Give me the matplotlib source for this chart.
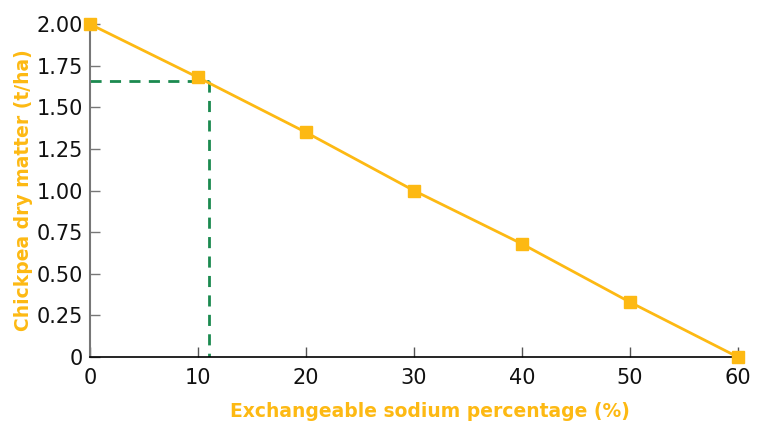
import matplotlib
matplotlib.use("Agg")
import matplotlib.pyplot as plt

esp = [0, 10, 20, 30, 40, 50, 60]
dry_matter = [2.00, 1.68, 1.35, 1.00, 0.68, 0.33, 0.0]
ref_x = 11
ref_y = 1.66
xticks = [0, 10, 20, 30, 40, 50, 60]
yticks = [0, 0.25, 0.5, 0.75, 1.0, 1.25, 1.5, 1.75, 2.0]
ylabels = ["0", "0.25", "0.50", "0.75", "1.00", "1.25", "1.50", "1.75", "2.00"]

yellow = "#FDB913"
green = "#1B8A4F"

plt.rcParams['font.family'] = ['DejaVu Sans']
fig = plt.figure(figsize=(7.63, 4.24), dpi=100)
ax = fig.add_axes([0.118, 0.158, 0.849, 0.785])

ax.plot([0, ref_x], [ref_y, ref_y], color=green, lw=2, ls=(0, (4, 3)), zorder=2)
ax.plot([ref_x, ref_x], [ref_y, 0], color=green, lw=2, ls=(0, (4, 3)), zorder=2)
ax.plot(esp, dry_matter, color=yellow, lw=2, marker='s', ms=8, clip_on=False, zorder=3)

ax.set_xlim(0, 60)
ax.set_ylim(0, 2)
ax.set_xticks(xticks)
ax.set_yticks(yticks)
ax.set_yticklabels(ylabels)
ax.tick_params(direction='in', labelsize=15, length=7, width=1, pad=4)
ax.tick_params(axis='y', colors='#777777', labelcolor='#111111', pad=5)
ax.tick_params(axis='x', colors='#555555', labelcolor='#111111', pad=8)
for s in ['top', 'right']:
    ax.spines[s].set_visible(False)
ax.spines['left'].set_color('#777777')
ax.spines['left'].set_linewidth(1.5)
ax.spines['bottom'].set_color('black')
ax.spines['bottom'].set_linewidth(1.2)

ax.set_xlabel("Exchangeable sodium percentage (%)", color=yellow, fontsize=13.5,
              fontweight='bold', va='center')
ax.xaxis.set_label_coords(0.525, -0.165)
ax.set_ylabel("Chickpea dry matter (t/ha)", color=yellow, fontsize=13.5, fontweight='bold', labelpad=3)

fig.savefig("out.png", dpi=100)
